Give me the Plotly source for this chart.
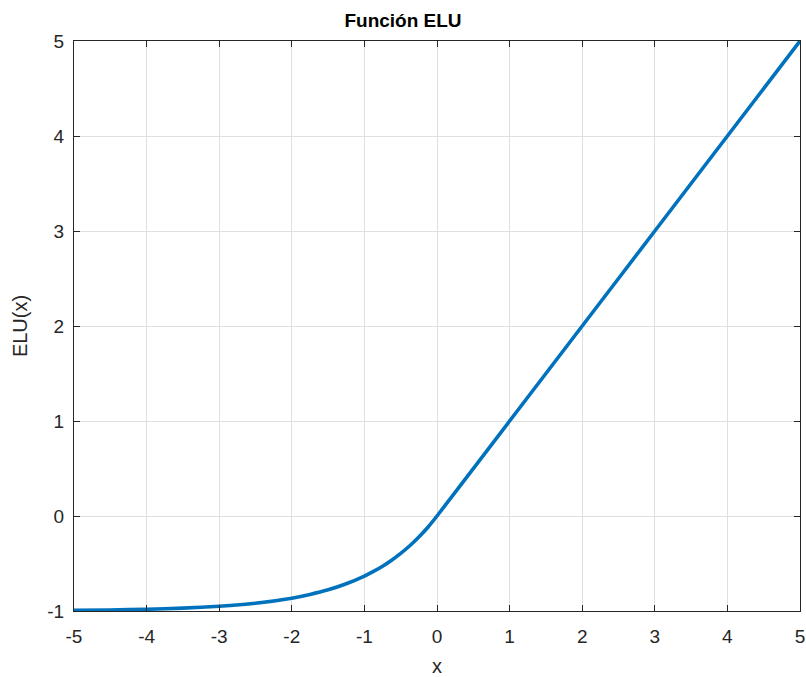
import plotly.graph_objects as go

# Sampled points of the ELU curve (alpha = 1)
x_vals = [-5.0, -4.5, -4.0, -3.5, -3.0, -2.5, -2.0, -1.75, -1.5, -1.25, -1.0,
          -0.875, -0.75, -0.625, -0.5, -0.375, -0.25, -0.125, 0.0,
          1.0, 2.0, 3.0, 4.0, 5.0]
y_vals = [-0.993, -0.989, -0.982, -0.970, -0.950, -0.918, -0.865, -0.826, -0.777,
          -0.713, -0.632, -0.583, -0.528, -0.465, -0.393, -0.313, -0.221, -0.118, 0.0,
          1.0, 2.0, 3.0, 4.0, 5.0]

x_ticks = [-5, -4, -3, -2, -1, 0, 1, 2, 3, 4, 5]
y_ticks = [-1, 0, 1, 2, 3, 4, 5]

FONT = "Liberation Sans, Arial, sans-serif"

fig = go.Figure()
fig.add_trace(go.Scatter(
    x=x_vals, y=y_vals, mode="lines",
    line=dict(color="#0072BD", width=3.6, shape="spline", smoothing=0.6),
    showlegend=False,
))

axis_common = dict(
    showgrid=True, gridcolor="#DFDFDF", gridwidth=1,
    zeroline=False, showline=True, linecolor="#262626", linewidth=1.2,
    mirror="ticks", ticks="inside", ticklen=6, tickcolor="#262626",
    tickfont=dict(family=FONT, size=19, color="#262626"),
    automargin=False,
)

fig.update_layout(
    width=806, height=677,
    margin=dict(l=74, r=6, t=41, b=66),
    paper_bgcolor="white", plot_bgcolor="white",
    title=dict(text="<b>Función ELU</b>", x=0.5, xanchor="center", y=0.97, yanchor="middle",
               font=dict(family=FONT, size=19, color="#000000")),
    xaxis=dict(range=[-5, 5], tickvals=x_ticks, ticktext=[str(v) for v in x_ticks],
               ticklabelstandoff=8,
               title=dict(text="x", standoff=14, font=dict(family=FONT, size=20, color="#262626")),
               **axis_common),
    yaxis=dict(range=[-1, 5], tickvals=y_ticks, ticktext=[str(v) for v in y_ticks],
               ticklabelstandoff=5,
               title=dict(text="ELU(x)", standoff=14, font=dict(family=FONT, size=20, color="#262626")),
               **axis_common),
)

fig.write_html("out.html")
